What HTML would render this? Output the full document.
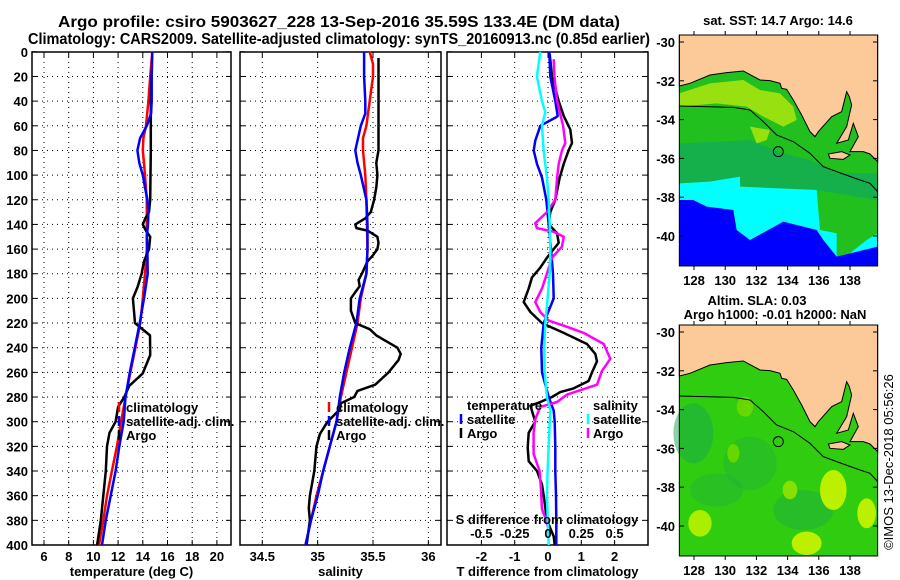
<!DOCTYPE html>
<html><head><meta charset="utf-8">
<style>
html,body{margin:0;padding:0;background:#fff;}
svg{display:block;font-family:"Liberation Sans",sans-serif;}
.b{font-weight:bold;font-size:13px;}
.t{font-weight:bold;font-size:16px;}
</style></head>
<body>
<svg id="fig" width="900" height="580" viewBox="0 0 900 580" xmlns="http://www.w3.org/2000/svg">
<rect width="900" height="580" fill="#fff"/>
<text class="t" x="58" y="27" textLength="562" lengthAdjust="spacingAndGlyphs">Argo profile: csiro 5903627_228 13-Sep-2016 35.59S 133.4E (DM data)</text>
<text class="t" x="28" y="44" textLength="622" lengthAdjust="spacingAndGlyphs">Climatology: CARS2009. Satellite-adjusted climatology: synTS_20160913.nc (0.85d earlier)</text>
<g id="plots"></g>

<!-- Map 1: SST -->
<g>
<text class="b" x="778" y="25" text-anchor="middle">sat. SST: 14.7 Argo: 14.6</text>
<g transform="translate(650,0) scale(0.3333)">
<rect x="88" y="105" width="595" height="693" fill="#22c01e"/>
<polygon points="88,430 300,420 400,460 480,480 560,520 683,520 683,600 500,570 270,560 270,530 180,545 88,550" fill="#10aa60" opacity="0.7"/>
<polygon points="88,280 180,250 280,240 330,270 390,280 430,320 440,360 400,380 340,350 290,320 200,310 88,320" fill="#99e010"/>
<polygon points="300,380 360,390 350,420 320,430" fill="#99e010"/>
<polygon points="88,550 180,545 270,530 270,560 500,570 510,690 560,700 560,770 600,760 650,720 683,700 683,798 88,798" fill="#00ffff"/>
<polygon points="88,600 130,600 170,620 250,630 260,690 300,720 400,665 500,690 520,720 560,770 683,740 683,798 88,798" fill="#0000ff"/>
<polygon points="88,105 683,105 683,485 660,462 640,455 600,455 625,410 610,370 595,420 560,430 590,380 605,315 598,290 590,275 575,335 545,350 505,395 495,410 480,395 455,345 430,300 410,268 395,265 390,250 360,242 330,240 280,213 230,218 180,225 120,250 88,258" fill="#fcca98" stroke="#000" stroke-width="3"/>
<polygon points="535,462 575,455 600,465 580,478 540,475" fill="#fcca98" stroke="#000" stroke-width="3"/>
<polyline points="88,318 250,322 300,330 340,365 380,405 430,425 480,460 520,500 560,515 630,540 660,550 683,575" fill="none" stroke="#000" stroke-width="3"/>
<circle cx="385" cy="455" r="15" fill="none" stroke="#000" stroke-width="3"/>
<rect x="88" y="105" width="595" height="693" fill="none" stroke="#000" stroke-width="3"/>
</g>
</g>

<!-- Map 2: SLA -->
<g>
<text class="b" x="757" y="305" text-anchor="middle">Altim. SLA: 0.03</text>
<text class="b" x="775" y="319" text-anchor="middle">Argo h1000: -0.01 h2000: NaN</text>
<g transform="translate(650,290) scale(0.3333)">
<rect x="88" y="105" width="595" height="693" fill="#30cc10"/>
<ellipse cx="130" cy="430" rx="60" ry="90" fill="#18a850" opacity="0.5"/>
<ellipse cx="300" cy="520" rx="80" ry="80" fill="#20b040" opacity="0.4"/>
<ellipse cx="460" cy="660" rx="90" ry="60" fill="#18a850" opacity="0.4"/>
<ellipse cx="200" cy="600" rx="80" ry="50" fill="#20b040" opacity="0.4"/>
<ellipse cx="550" cy="600" rx="40" ry="60" fill="#bbf000"/>
<ellipse cx="650" cy="670" rx="28" ry="45" fill="#bbf000"/>
<ellipse cx="150" cy="700" rx="35" ry="40" fill="#aaee00"/>
<ellipse cx="470" cy="760" rx="45" ry="35" fill="#bbf000"/>
<ellipse cx="420" cy="600" rx="22" ry="28" fill="#88e000"/>
<ellipse cx="285" cy="350" rx="25" ry="30" fill="#66d800"/>
<ellipse cx="250" cy="490" rx="18" ry="28" fill="#66d800"/>
<polygon points="88,105 683,105 683,485 660,462 640,455 600,455 625,410 610,370 595,420 560,430 590,380 605,315 598,290 590,275 575,335 545,350 505,395 495,410 480,395 455,345 430,300 410,268 395,265 390,250 360,242 330,240 280,213 230,218 180,225 120,250 88,258" fill="#fcca98" stroke="#000" stroke-width="3"/>
<polygon points="535,462 575,455 600,465 580,478 540,475" fill="#fcca98" stroke="#000" stroke-width="3"/>
<polyline points="88,318 250,322 300,330 340,365 380,405 430,425 480,460 520,500 560,515 630,540 660,550 683,575" fill="none" stroke="#000" stroke-width="3"/>
<circle cx="385" cy="455" r="15" fill="none" stroke="#000" stroke-width="3"/>
<rect x="88" y="105" width="595" height="693" fill="none" stroke="#000" stroke-width="3"/>
</g>
</g>
<g id="mapaxes"></g>
<text x="893" y="462" transform="rotate(-90 893 462)" text-anchor="middle" font-size="13">©IMOS 13-Dec-2018 05:56:26</text>
</svg>
<script>
// ---- data ----
const depthTicks = [0,20,40,60,80,100,120,140,160,180,200,220,240,260,280,300,320,340,360,380,400];
const tempTicks = [6,8,10,12,14,16,18,20];
const salTicks = [34.5,35,35.5,36];
const tdiffTicks = [-2,-1,0,1,2];
const sdiffTicks = [-0.5,-0.25,0,0.25,0.5];
const sdiffLabels = ['-0.5','-0.25','0','0.25','0.5'];
const latTicks = [-30,-32,-34,-36,-38,-40];
const lonTicks = [128,130,132,134,136,138];

const tClimDepth = [0,20,40,60,70,80,90,100,120,140,160,180,200,220,240,260,280,300,320,340,360,380,400];
const tClimVal = [14.77,14.6,14.45,14.26,14.05,14.0,14.1,14.18,14.32,14.32,14.32,14.18,14.0,13.8,13.4,13.0,12.6,12.24,11.9,11.5,11.1,10.8,10.45];
const tSatDepth = [0,20,40,50,60,70,80,90,100,110,120,130,140,150,160,180,200,220,240,260,280,300,320,340,360,380,400];
const tSatVal = [14.77,14.72,14.72,14.67,14.32,13.78,13.56,13.72,14.0,14.18,14.37,14.45,14.42,14.32,14.37,14.4,14.1,13.75,13.35,12.95,12.6,12.45,12.1,11.8,11.4,11.0,10.7];
const tArgoDepth = [15,40,80,120,130,135,140,145,150,160,170,180,190,200,220,230,246,261,271,280,288,300,309,320,340,360,380,400];
const tArgoVal = [14.72,14.65,14.65,14.6,14.5,14.2,14.0,14.25,14.6,14.5,14.1,13.9,13.6,13.2,13.37,14.58,14.6,13.98,12.9,12.5,12.0,11.8,11.3,11.1,11.0,10.8,10.6,10.3];

const sClimDepth = [0,10,20,40,60,70,80,100,120,160,180,200,220,240,260,280,300,320,340,360,380,400];
const sClimVal = [35.47,35.5,35.5,35.47,35.44,35.41,35.41,35.43,35.44,35.45,35.44,35.39,35.36,35.31,35.26,35.21,35.17,35.11,35.05,34.99,34.94,34.89];
const sSatDepth = [0,20,40,50,60,80,90,100,120,140,160,180,200,220,240,260,280,300,320,340,360,380,400];
const sSatVal = [35.42,35.42,35.43,35.43,35.39,35.34,35.36,35.39,35.44,35.45,35.45,35.44,35.38,35.35,35.29,35.24,35.2,35.17,35.11,35.05,35.0,34.94,34.89];
const sArgoDepth = [5,80,90,100,110,120,130,135,140,143,145,150,155,160,165,170,180,185,190,195,200,210,220,225,230,240,245,250,260,270,275,280,285,290,300,310,320,340,360,370,380,400];
const sArgoVal = [35.55,35.55,35.53,35.54,35.53,35.51,35.48,35.43,35.34,35.35,35.45,35.54,35.55,35.54,35.5,35.45,35.40,35.37,35.38,35.34,35.30,35.30,35.34,35.47,35.53,35.72,35.75,35.73,35.64,35.52,35.36,35.33,35.21,35.2,35.09,35.02,34.99,34.97,34.93,34.92,34.93,34.9];

const dtArgoDepth = [2,20,40,52,63,74,80,91,102,120,130,140,147,155,160,167,175,183,192,203,211,220,228,237,245,251,260,267,273,276,280,284,287,300,309,321,332,340,351,360,380,393,400];
const dtArgoVal = [0.05,0.12,0.32,0.47,0.67,0.72,0.62,0.47,0.35,0.22,0.07,0.02,0.27,0.32,0.17,-0.03,-0.23,-0.48,-0.58,-0.73,-0.53,-0.18,0.47,1.17,1.42,1.47,1.32,1.22,0.77,0.37,0.12,-0.23,-0.53,-0.38,-0.58,-0.61,-0.58,-0.33,-0.18,-0.13,-0.03,0.17,0.2];
const dtSatDepth = [0,20,40,52,53,60,72,80,91,102,120,140,160,180,200,220,240,260,280,291,300,320,340,360,380,400];
const dtSatVal = [0.04,0.07,0.22,0.29,0.25,-0.23,-0.38,-0.43,-0.33,-0.18,-0.05,0.02,0.09,0.15,0.17,-0.13,-0.2,-0.18,0.02,0.17,0.2,0.22,0.22,0.24,0.25,0.25];
const dsSatDepth = [0,20,40,49,60,80,102,120,140,160,180,200,220,240,260,280,291,300,320,340,360,400];
const dsSatVal = [-0.058,-0.083,-0.045,-0.02,-0.045,-0.033,-0.008,0.005,0.013,0.018,0.013,-0.003,-0.02,-0.028,-0.025,-0.008,0.018,0.013,0.005,-0.003,-0.008,0.005];
const dsArgoDepth = [6,20,40,60,74,80,91,102,120,130,139,143,146,150,158,167,180,192,203,211,218,223,228,237,249,259,270,278,284,288,298,309,326,340,354,371,380,388];
const dsArgoVal = [0.043,0.048,0.068,0.113,0.13,0.105,0.08,0.068,0.055,-0.008,-0.095,-0.083,0.043,0.118,0.105,0.03,-0.008,-0.045,-0.095,-0.058,0.005,0.143,0.268,0.418,0.468,0.405,0.368,0.143,0.068,-0.058,-0.095,-0.108,-0.108,-0.063,-0.053,-0.045,-0.013,0.005];

// ---- scales ----
const TOP=52, BOT=545;
const yD = d => 51.8 + d*1.233;
const xT = v => 44 + (v-6)*12.35;
const xS = v => 262.3 + (v-34.5)*110.7;
const xDT = v => 548 + v*33.3;
const xDS = v => 548 + v*133.2;
const mapLon = v => 694 + (v-128)*15.6;

const NS='http://www.w3.org/2000/svg';
const root=document.getElementById('plots');
function mk(tag,attrs,parent){const e=document.createElementNS(NS,tag);for(const k in attrs)e.setAttribute(k,attrs[k]);(parent||root).appendChild(e);return e;}
function txt(s,attrs,parent){const e=mk('text',attrs,parent);e.textContent=s;return e;}

const panels=[
 {name:'temperature-panel',x0:32,x1:231,xs:xT,ticks:tempTicks,labels:tempTicks.map(String),title:'temperature (deg C)',ylabels:true},
 {name:'salinity-panel',x0:240,x1:441,xs:xS,ticks:salTicks,labels:salTicks.map(String),title:'salinity',ylabels:false},
 {name:'difference-panel',x0:447,x1:648,xs:xDT,ticks:tdiffTicks,labels:tdiffTicks.map(String),title:'T difference from climatology',ylabels:false}
];
panels.forEach(p=>{
  const g=mk('g',{});
  
  
  p.ticks.forEach(t=>{
    const x=p.xs(t);
    const l=mk('line',{x1:x,x2:x,y1:TOP,y2:BOT,stroke:'#000','stroke-width':1,'stroke-dasharray':'1,4'},g);
    
    
    mk('line',{x1:x,x2:x,y1:BOT,y2:BOT-5,stroke:'#000'},g);
    mk('line',{x1:x,x2:x,y1:TOP,y2:TOP+5,stroke:'#000'},g);
  });
  p.labels.forEach((s,i)=>{
    const t=txt(s,{x:p.xs(p.ticks[i]),y:561,'text-anchor':'middle',class:'b'},g);
    
    
  });
  depthTicks.forEach(d=>{
    const y=yD(d);
    if(d>0&&d<400){
      const l=mk('line',{x1:p.x0,x2:p.x1,y1:y,y2:y,stroke:'#000','stroke-width':1,'stroke-dasharray':'1,4'},g);
      
      
    }
    mk('line',{x1:p.x0,x2:p.x0+5,y1:y,y2:y,stroke:'#000'},g);
    mk('line',{x1:p.x1,x2:p.x1-5,y1:y,y2:y,stroke:'#000'},g);
    if(p.ylabels){
      const t=txt(String(d),{x:28,y:y+5,'text-anchor':'end',class:'b'},g);
      
      
    }
  });
  const fr=mk('rect',{x:p.x0,y:TOP,width:p.x1-p.x0,height:BOT-TOP,fill:'none',stroke:'#000','stroke-width':1.5},g);
  
  
  const tt=txt(p.title,{x:(p.x0+p.x1)/2,y:576,'text-anchor':'middle',class:'b'},g);
  
  
});

function line(depths,vals,xs,color,name){
  const pts=depths.map((d,i)=>xs(vals[i]).toFixed(1)+','+yD(d).toFixed(1)).join(' ');
  const e=mk('polyline',{points:pts,fill:'none',stroke:color,'stroke-width':2.5,'stroke-linejoin':'round'});
  
  
}
line(tClimDepth,tClimVal,xT,'#ff0000','temp-climatology-line');
line(tArgoDepth,tArgoVal,xT,'#000000','temp-argo-line');
line(tSatDepth,tSatVal,xT,'#0000ff','temp-satellite-line');
line(sClimDepth,sClimVal,xS,'#ff0000','sal-climatology-line');
line(sArgoDepth,sArgoVal,xS,'#000000','sal-argo-line');
line(sSatDepth,sSatVal,xS,'#0000ff','sal-satellite-line');
line(dtArgoDepth,dtArgoVal,xDT,'#000000','tdiff-argo-line');
line(dtSatDepth,dtSatVal,xDT,'#0000ff','tdiff-satellite-line');
line(dsArgoDepth,dsArgoVal,xDS,'#ff00ff','sdiff-argo-line');
line(dsSatDepth,dsSatVal,xDS,'#00ffff','sdiff-satellite-line');

sdiffTicks.forEach((v,i)=>{
  const t=txt(sdiffLabels[i],{x:xDS(v),y:538,'text-anchor':'middle',class:'b'});
  
  
});
const sdt=txt('S difference from climatology',{x:547,y:524,'text-anchor':'middle',class:'b'});



function legend(x,tx,items,gname){
  const g=mk('g',{});
  
  
  items.forEach(it=>{
    if(it.c) mk('line',{x1:x,x2:x,y1:it.y-10,y2:it.y,stroke:it.c,'stroke-width':2.5},g);
    const t=txt(it.s,{x:tx,y:it.y,class:'b'},g);
    
    
  });
}
const L1=[{s:'climatology',c:'#ff0000',y:412},{s:'satellite-adj. clim.',c:'#0000ff',y:426},{s:'Argo',c:'#000000',y:440}];
legend(119,126,L1,'temp-legend');
legend(329,336,L1,'sal-legend');
legend(461,467,[{s:'temperature',y:410},{s:'satellite',c:'#0000ff',y:424},{s:'Argo',c:'#000000',y:438}],'tdiff-legend');
legend(588,593,[{s:'salinity',y:410},{s:'satellite',c:'#00ffff',y:424},{s:'Argo',c:'#ff00ff',y:438}],'sdiff-legend');

const ma=document.getElementById('mapaxes');
[[35,266],[325,556]].forEach(([top,bot],mi)=>{
  latTicks.forEach(v=>{
    const y=top+7+(-30-v)*19.4;
    mk('line',{x1:679,x2:684,y1:y,y2:y,stroke:'#000'},ma);
    mk('line',{x1:878,x2:873,y1:y,y2:y,stroke:'#000'},ma);
    const t=txt(String(v),{x:675,y:y+5,'text-anchor':'end',class:'b'},ma);
    
    
  });
  lonTicks.forEach(v=>{
    const x=mapLon(v);
    mk('line',{x1:x,x2:x,y1:top,y2:top-4,stroke:'#000'},ma);
    mk('line',{x1:x,x2:x,y1:bot,y2:bot+4,stroke:'#000'},ma);
    const t=txt(String(v),{x:x,y:bot+19,'text-anchor':'middle',class:'b'},ma);
    
    
  });
});
</script>
</body></html>
